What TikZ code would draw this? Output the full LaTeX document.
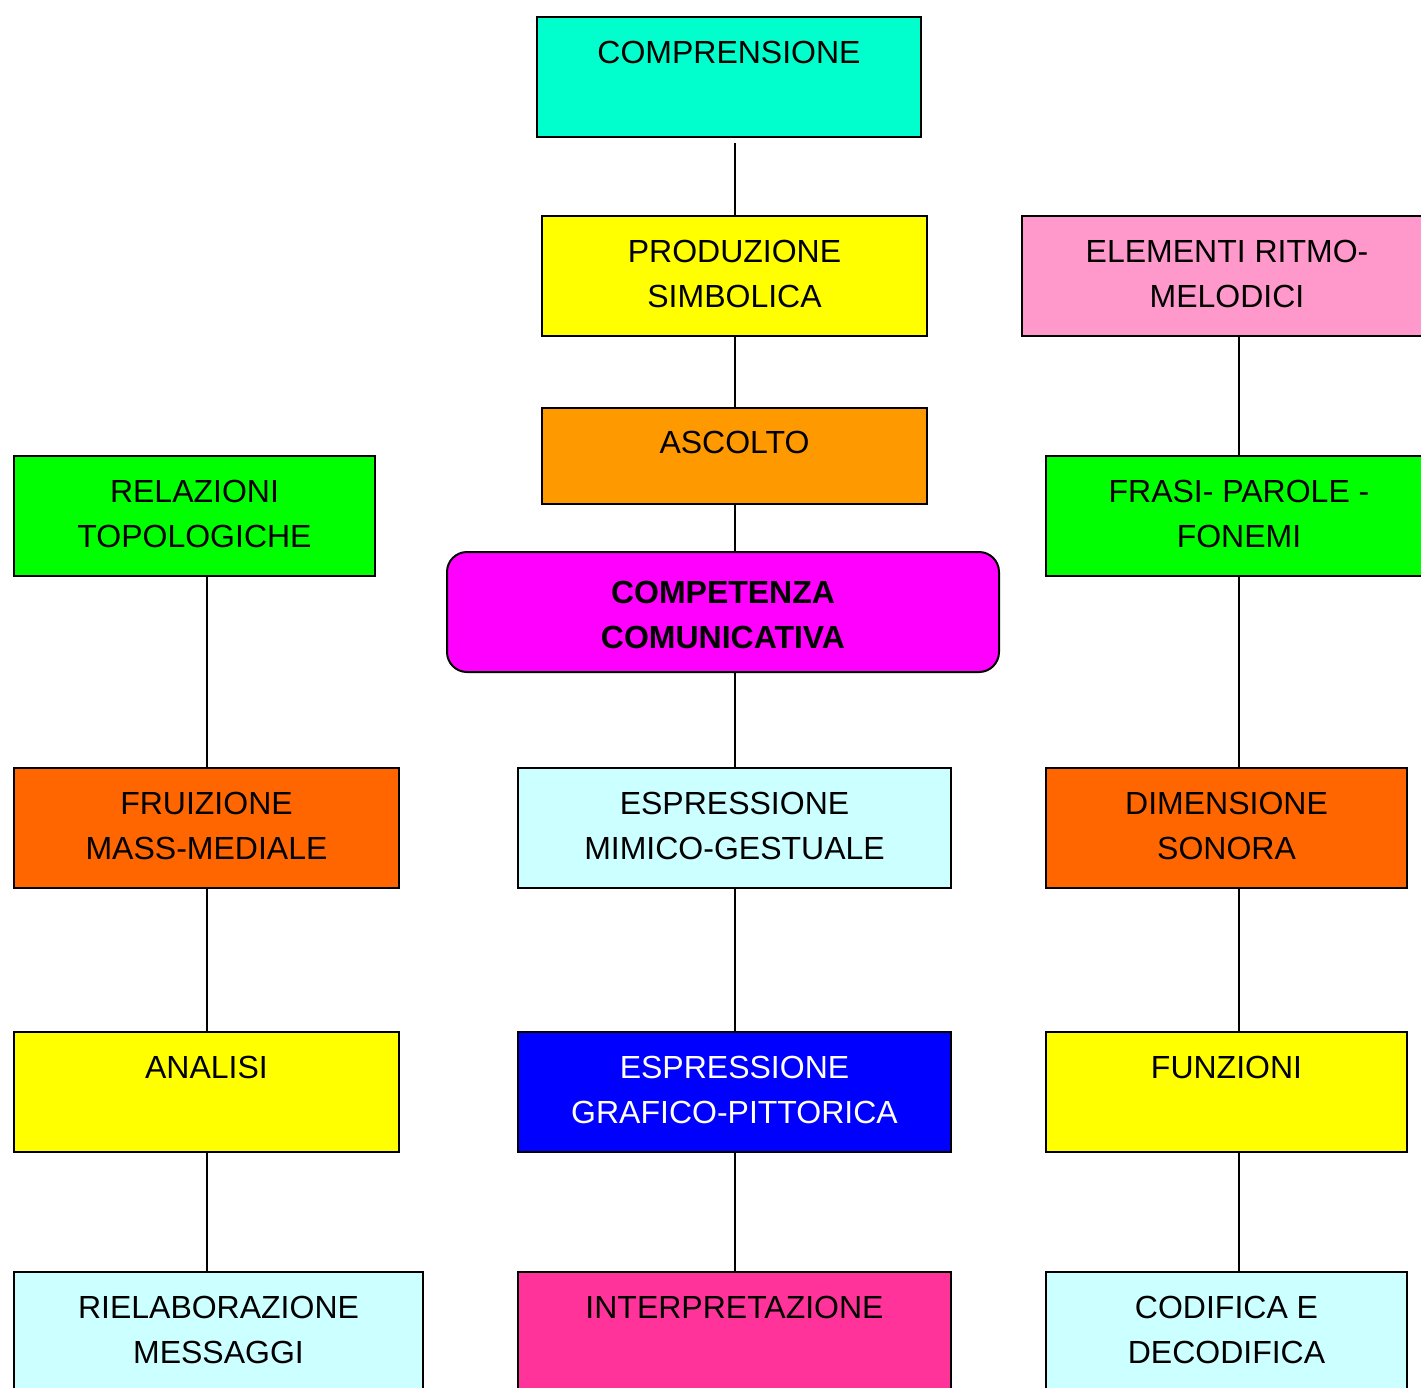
\documentclass[tikz,border=0pt]{standalone}
\usepackage{fontspec}
\setmainfont{Liberation Sans}
\definecolor{cAqua}{HTML}{00FFCC}
\definecolor{cYellow}{HTML}{FFFF00}
\definecolor{cRose}{HTML}{FF99CC}
\definecolor{cAmber}{HTML}{FF9900}
\definecolor{cGreen}{HTML}{00FF00}
\definecolor{cMagenta}{HTML}{FF00FF}
\definecolor{cOrange}{HTML}{FF6600}
\definecolor{cIce}{HTML}{CCFFFF}
\definecolor{cBlue}{HTML}{0000FF}
\definecolor{cPink}{HTML}{FF3399}
% box content: width, height, top gap, text
\newcommand{\boxlbl}[4]{\parbox[c][#2pt][t]{#1pt}{\centering\fontsize{32}{45}\selectfont\vspace*{#3pt}#4}}
\tikzset{
  box/.style={draw=black, line width=2pt, inner sep=0pt, outer sep=0pt, anchor=north west},
  link/.style={draw=black, line width=2pt},
}
\begin{document}
\begin{tikzpicture}[x=1pt, y=-1pt]
\path[use as bounding box, clip] (0,0) rectangle (1421,1387);
\fill[white] (0,0) rectangle (1421,1387);

% centre column
\node[box, fill=cAqua] (comp) at (537,17) {\boxlbl{384}{120}{24}{COMPRENSIONE}};
\node[box, fill=cYellow] (prod) at (542,216) {\boxlbl{385}{120}{24}{PRODUZIONE\\SIMBOLICA}};
\node[box, fill=cAmber] (asc) at (542,408) {\boxlbl{385}{96}{23}{ASCOLTO}};
\node[box, fill=cMagenta, rounded corners=20pt] (comp2) at (447,552) {\boxlbl{552}{120}{29}{\bfseries COMPETENZA\\COMUNICATIVA}};
\node[box, fill=cIce] (mim) at (518,768) {\boxlbl{433}{120}{24}{ESPRESSIONE\\MIMICO-GESTUALE}};
\node[box, fill=cBlue] (graf) at (518,1032) {\boxlbl{433}{120}{24}{\color{white}ESPRESSIONE\\GRAFICO-PITTORICA}};
\node[box, fill=cPink] (interp) at (518,1272) {\boxlbl{433}{140}{24}{INTERPRETAZIONE}};

% left column
\node[box, fill=cGreen] (rel) at (14,456) {\boxlbl{361}{120}{24}{RELAZIONI\\TOPOLOGICHE}};
\node[box, fill=cOrange] (fru) at (14,768) {\boxlbl{385}{120}{24}{FRUIZIONE\\MASS-MEDIALE}};
\node[box, fill=cYellow] (ana) at (14,1032) {\boxlbl{385}{120}{24}{ANALISI}};
\node[box, fill=cIce] (riel) at (14,1272) {\boxlbl{409}{140}{24}{RIELABORAZIONE\\MESSAGGI}};

% right column
\node[box, fill=cRose] (ritmo) at (1022,216) {\boxlbl{410}{120}{24}{ELEMENTI RITMO-\\MELODICI}};
\node[box, fill=cGreen] (frasi) at (1046,456) {\boxlbl{386}{120}{24}{FRASI- PAROLE -\\FONEMI}};
\node[box, fill=cOrange] (dim) at (1046,768) {\boxlbl{361}{120}{24}{DIMENSIONE\\SONORA}};
\node[box, fill=cYellow] (fun) at (1046,1032) {\boxlbl{361}{120}{24}{FUNZIONI}};
\node[box, fill=cIce] (cod) at (1046,1272) {\boxlbl{361}{140}{24}{CODIFICA E\\DECODIFICA}};

% connectors, centre
\draw[link, shorten >=6pt] (prod.north) -- (prod.north |- comp.south);
\draw[link] (prod.south) -- (asc.north);
\draw[link] (asc.south) -- (asc.south |- comp2.north);
\draw[link] (mim.north |- comp2.south) -- (mim.north);
\draw[link] (mim.south) -- (graf.north);
\draw[link] (graf.south) -- (interp.north);

% connectors, left
\draw[link] (fru.north |- rel.south) -- (fru.north);
\draw[link] (fru.south) -- (ana.north);
\draw[link] (ana.south) -- (ana.south |- riel.north);

% connectors, right
\draw[link] (frasi.north |- ritmo.south) -- (frasi.north);
\draw[link] (frasi.south) -- (frasi.south |- dim.north);
\draw[link] (frasi.south |- dim.south) -- (frasi.south |- fun.north);
\draw[link] (frasi.south |- fun.south) -- (frasi.south |- cod.north);
\end{tikzpicture}
\end{document}
